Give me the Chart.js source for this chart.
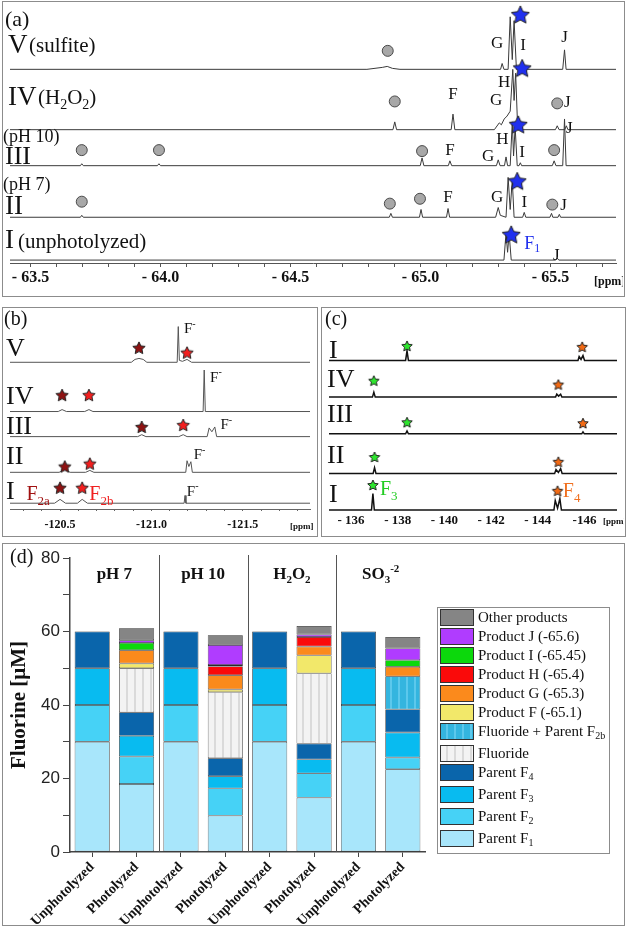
<!DOCTYPE html>
<html>
<head>
<meta charset="utf-8">
<script src="https://cdn.jsdelivr.net/npm/chart.js@4.4.1/dist/chart.umd.min.js"></script>
<style>
  body { margin: 0; background: #fff; }
  #page { position: relative; width: 627px; height: 927px; overflow: hidden; background: #fff; }
  .box { position: absolute; border: 1px solid #8c8c8c; box-sizing: border-box; }
  canvas { position: absolute; }
</style>
</head>
<body>
<div id="page">
  <div class="box" style="left:2px;top:1px;width:623px;height:296px"></div>
  <div class="box" style="left:2px;top:307px;width:316px;height:230px"></div>
  <div class="box" style="left:321px;top:307px;width:305px;height:230px"></div>
  <div class="box" style="left:2px;top:543px;width:623px;height:383px"></div>
  <canvas id="chartA" width="620" height="293" style="left:3px;top:2px;width:620px;height:293px"></canvas>
  <canvas id="chartB" width="314" height="227" style="left:3px;top:308px;width:314px;height:227px"></canvas>
  <canvas id="chartC" width="302" height="227" style="left:322px;top:308px;width:302px;height:227px"></canvas>
  <canvas id="chartD" width="620" height="380" style="left:3px;top:544px;width:620px;height:380px"></canvas>
</div>
<script>
Chart.defaults.font.family = "'Liberation Serif', 'Times New Roman', serif";
Chart.defaults.color = '#111';

// ---------- panel (a): CF3 region, ppm / intensity ----------
var aV_ppm = [-63.421, -64.794, -64.853, -64.872, -64.892, -64.921, -65.308, -65.314, -65.321, -65.337, -65.345, -65.353, -65.360, -65.369, -65.376, -65.380, -65.385, -65.547, -65.554, -65.560, -65.752];
var aV_int = [0, 0, 2, 3, 1, 0, 0, 6, 0, 0, 54, 10, 50, 0, 0, 3, 0, 0, 20, 0, 0];
var aIV_ppm = [-63.421, -64.894, -64.901, -64.908, -65.118, -65.125, -65.132, -65.284, -65.303, -65.311, -65.322, -65.333, -65.345, -65.355, -65.360, -65.366, -65.374, -65.519, -65.526, -65.533, -65.555, -65.561, -65.567, -65.752];
var aIV_int = [0, 0, 8, 0, 0, 16, 0, 0, 7, 5, 11, 14, 19, 62, 30, 58, 0, 0, 4, 0, 0, 4, 0, 0];
var aIII_ppm = [-63.421, -63.692, -63.697, -63.703, -63.988, -63.994, -64.000, -64.999, -65.006, -65.013, -65.107, -65.113, -65.120, -65.292, -65.299, -65.306, -65.323, -65.329, -65.335, -65.345, -65.353, -65.358, -65.364, -65.372, -65.379, -65.384, -65.389, -65.507, -65.514, -65.521, -65.547, -65.554, -65.560, -65.752];
var aIII_int = [0, 0, 2, 0, 0, 2, 0, 0, 8, 0, 0, 5, 0, 0, 6, 0, 0, 9, 0, 0, 45, 10, 40, 0, 0, 3, 0, 0, 5, 0, 0, 48, 0, 0];
var aII_ppm = [-63.421, -63.692, -63.697, -63.703, -64.880, -64.886, -64.892, -64.996, -65.002, -65.008, -65.100, -65.106, -65.112, -65.289, -65.299, -65.307, -65.329, -65.337, -65.345, -65.353, -65.360, -65.393, -65.399, -65.405, -65.498, -65.504, -65.509, -65.529, -65.534, -65.539, -65.752];
var aII_int = [0, 0, 2, 0, 0, 4, 0, 0, 8, 0, 0, 9, 0, 0, 10, 2, 0, 41, 8, 38, 0, 0, 5, 0, 0, 4, 0, 0, 3, 0, 0];
var aI_ppm = [-63.421, -65.321, -65.329, -65.335, -65.341, -65.349, -65.520, -65.526, -65.532, -65.752];
var aI_int = [0, 0, 28, 8, 27, 0, 0, 2, 0, 0];

var aV_stars = [[-65.384, 56]], aV_circles = [[-64.874, 19]];
var aIV_stars = [[-65.391, 63]], aIV_circles = [[-64.901, 29], [-65.526, 27]];
var aIII_stars = [[-65.376, 42]], aIII_circles = [[-63.697, 16], [-63.994, 16], [-65.006, 15], [-65.514, 16]];
var aII_stars = [[-65.372, 37]], aII_circles = [[-63.697, 16], [-64.882, 14], [-64.998, 19], [-65.507, 13]];
var aI_stars = [[-65.349, 26]];

var aV_tags = [[-65.295, 28, 'G'], [-65.395, 26, 'I'], [-65.554, 34, 'J']];
var aIV_tags = [[-65.125, 37, 'F'], [-65.322, 50, 'H'], [-65.291, 31, 'G'], [-65.565, 29, 'J']];
var aIII_tags = [[-65.113, 17, 'F'], [-65.315, 28, 'H'], [-65.260, 11, 'G'], [-65.391, 15, 'I'], [-65.572, 39, 'J']];
var aII_tags = [[-65.106, 21, 'F'], [-65.295, 21, 'G'], [-65.399, 16, 'I'], [-65.550, 13, 'J']];
var aI_tags = [[-65.522, 6, 'J']];
var aI_blue = [[-65.430, 18, 'F_{1}']];

// ---------- panel (b): F2 region ----------
var bV_ppm = [-120.226, -120.89, -120.91, -120.932, -120.955, -120.975, -121.141, -121.147, -121.153, -121.17, -121.195, -121.22, -121.868];
var bV_int = [0, 0, 3, 4, 3, 0, 0, 37, 2, 1, 3, 0, 0];
var bIV_ppm = [-120.226, -120.49, -120.511, -120.535, -120.635, -120.658, -120.68, -121.283, -121.289, -121.295, -121.868];
var bIV_int = [0, 0, 2, 0, 0, 2, 0, 0, 43, 0, 0];
var bIII_ppm = [-120.226, -120.925, -120.947, -120.97, -121.15, -121.174, -121.195, -121.305, -121.316, -121.331, -121.347, -121.357, -121.868];
var bIII_int = [0, 0, 2, 0, 0, 2, 0, 0, 9, 5, 10, 0, 0];
var bII_ppm = [-120.226, -120.495, -120.526, -120.555, -120.64, -120.663, -120.685, -121.188, -121.195, -121.205, -121.216, -121.224, -121.868];
var bII_int = [0, 0, 3, 0, 0, 2, 0, 0, 12, 6, 11, 0, 0];
var bI_ppm = [-120.226, -120.47, -120.5, -120.53, -120.595, -120.621, -120.65, -121.179, -121.184, -121.189, -121.868];
var bI_int = [0, 0, 4, 0, 0, 4, 0, 0, 8, 0, 0];

var bV_f2a = [[-120.932, 15]], bV_f2b = [[-121.195, 10]];
var bIV_f2a = [[-120.511, 17]], bIV_f2b = [[-120.658, 17]];
var bIII_f2a = [[-120.947, 10]], bIII_f2b = [[-121.174, 12]];
var bII_f2a = [[-120.526, 6]], bII_f2b = [[-120.663, 9]];
var bI_f2a = [[-120.5, 16]], bI_f2b = [[-120.621, 16]];

var bV_tags = [[-121.21, 35, 'F^{-}']];
var bIV_tags = [[-121.353, 36, 'F^{-}']];
var bIII_tags = [[-121.41, 13, 'F^{-}']];
var bII_tags = [[-121.263, 19, 'F^{-}']];
var bI_tags = [[-121.226, 13, 'F^{-}']];
var bI_f2aTag = [[-120.38, 10, 'F_{2a}']];
var bI_f2bTag = [[-120.726, 10, 'F_{2b}']];

// ---------- panel (c): F3 / F4 region ----------
var cI1_ppm = [-135.06, -138.34, -138.40, -138.46, -145.72, -145.769, -145.85, -145.934, -146.00, -147.39];
var cI1_int = [0, 0, 10, 0, 0, 4, 1, 5, 0, 0];
var cIV_ppm = [-135.06, -136.92, -136.98, -137.04, -144.76, -144.812, -144.89, -144.977, -145.03, -147.39];
var cIV_int = [0, 0, 5, 0, 0, 3, 1, 3, 0, 0];
var cIII_ppm = [-135.06, -138.34, -138.40, -138.46, -145.88, -145.934, -145.99, -147.39];
var cIII_int = [0, 0, 3, 0, 0, 2, 0, 0];
var cII_ppm = [-135.06, -136.95, -137.01, -137.07, -144.72, -144.779, -144.88, -144.977, -145.04, -147.39];
var cII_int = [0, 0, 6, 0, 0, 4, 1, 5, 0, 0];
var cI2_ppm = [-135.06, -136.88, -136.94, -137.00, -144.69, -144.746, -144.845, -144.944, -145.01, -147.39];
var cI2_int = [0, 0, 17, 0, 0, 10, 2, 12, 0, 0];

var cI1_f3 = [[-138.40, 15]], cI1_f4 = [[-145.901, 14]];
var cIV_f3 = [[-136.98, 17]], cIV_f4 = [[-144.878, 13]];
var cIII_f3 = [[-138.40, 12]], cIII_f4 = [[-145.934, 11]];
var cII_f3 = [[-137.01, 17]], cII_f4 = [[-144.878, 12]];
var cI2_f3 = [[-136.94, 26]], cI2_f4 = [[-144.845, 20]];
var cI2_f3Tag = [[-137.62, 22, 'F_{3}']];
var cI2_f4Tag = [[-145.45, 20, 'F_{4}']];

// ---------- panel (d): fluorine mass balance, µM ----------
var barLabels = ['Unphotolyzed', 'Photolyzed', 'Unphotolyzed', 'Photolyzed', 'Unphotolyzed', 'Photolyzed', 'Unphotolyzed', 'Photolyzed'];
var groupNames = ['pH 7', 'pH 10', 'H_{2}O_{2}', 'SO_{3}^{-2}'];
var parentF1 = [30, 18.5, 30, 9.9, 30, 14.8, 30, 22.5];
var parentF2 = [10, 7.5, 10, 7.4, 10, 6.6, 10, 3.2];
var parentF3 = [10, 5.6, 10, 3.3, 10, 3.8, 10, 6.8];
var parentF4 = [10, 6.4, 10, 4.9, 10, 4.3, 10, 6.3];
var fluoride = [null, 12.0, null, 18.0, null, 19.1, null, null];
var fluorideF2b = [null, null, null, null, null, null, null, 9.0];
var productF = [null, 1.3, null, 0.7, null, 4.9, null, null];
var productG = [null, 3.6, null, 3.9, null, 2.4, null, 2.6];
var productH = [null, null, null, 2.4, null, 2.6, null, null];
var productI = [null, 2.0, null, 0.4, null, null, null, 1.8];
var productJ = [null, 0.7, null, 5.4, null, 0.7, null, 3.2];
var otherProducts = [null, 3.3, null, 2.7, null, 2.3, null, 3.1];

// text with _{sub} and ^{sup}, y is the baseline
function drawRich(ctx, str, x, y, size, o) {
  o = o || {};
  var weight = o.bold ? 'bold ' : '';
  var fam = "'Liberation Serif', 'Times New Roman', serif";
  var parts = [], re = /_\{([^}]*)\}|\^\{([^}]*)\}|([^_^]+)/g, m;
  while ((m = re.exec(str))) {
    if (m[1] !== undefined) parts.push({t: m[1], k: 'sub'});
    else if (m[2] !== undefined) parts.push({t: m[2], k: 'sup'});
    else parts.push({t: m[3], k: 'n'});
  }
  var small = Math.round(size * 0.65), w = 0;
  ctx.save();
  parts.forEach(function (p) {
    ctx.font = weight + (p.k == 'n' ? size : small) + 'px ' + fam;
    p.w = ctx.measureText(p.t).width;
    w += p.w;
  });
  var cx = o.align == 'center' ? x - w / 2 : x;
  ctx.fillStyle = o.color || '#111';
  ctx.textBaseline = 'alphabetic';
  ctx.textAlign = 'left';
  parts.forEach(function (p) {
    ctx.font = weight + (p.k == 'n' ? size : small) + 'px ' + fam;
    var dy = p.k == 'sub' ? size * 0.22 : (p.k == 'sup' ? -size * 0.42 : 0);
    ctx.fillText(p.t, cx, y + dy);
    cx += p.w;
  });
  ctx.restore();
}

function starImg(r, fill) {
  var s = Math.ceil(r * 2 + 3);
  var c = document.createElement('canvas');
  c.width = s; c.height = s;
  var g = c.getContext('2d');
  g.beginPath();
  for (var i = 0; i < 10; i++) {
    var a = -Math.PI / 2 + i * Math.PI / 5;
    var rr = i % 2 ? r * 0.48 : r;
    g.lineTo(s / 2 + rr * Math.cos(a), s / 2 + 0.5 + rr * Math.sin(a));
  }
  g.closePath();
  g.fillStyle = fill; g.fill();
  g.lineWidth = 1; g.strokeStyle = '#222'; g.stroke();
  return c;
}

function pairs(list) { return list.map(function (p) { return {x: p[0], y: p[1]}; }); }
function zip(xs, ys) { return xs.map(function (x, i) { return {x: x, y: ys[i]}; }); }

function notes(tags, fixed, ox, oy) {
  return {
    id: 'notes',
    afterDatasetsDraw: function (chart) {
      var ctx = chart.ctx;
      tags.forEach(function (t) {
        t.list.forEach(function (p) {
          var x = chart.scales.x.getPixelForValue(p[0]);
          var y = chart.scales[t.axis].getPixelForValue(p[1]);
          drawRich(ctx, p[2], x, y + t.size * 0.33, t.size, {align: 'center', color: t.color});
        });
      });
      fixed.forEach(function (f) {
        drawRich(ctx, f[2], f[0] - ox, f[1] - oy, f[3], {color: f[4], bold: f[5]});
      });
    }
  };
}

function spectrumChart(id, o) {
  var scales = {
    x: {
      type: 'linear', reverse: true, min: o.xmin, max: o.xmax,
      ticks: Object.assign({autoSkip: false, maxRotation: 0, includeBounds: false, color: '#111'}, o.ticks),
      grid: o.grid, border: o.border,
      afterFit: function (s) { s.height = o.axisHeight; }
    }
  };
  var datasets = [];
  o.rows.forEach(function (r) {
    scales[r.id] = {type: 'linear', position: 'right', stack: 'rows', stackWeight: r.hi - r.lo, min: r.lo, max: r.hi,
      ticks: {display: false}, grid: {display: false, drawTicks: false}, border: {display: false}};
  });
  o.marks.forEach(function (m) {
    datasets.push({data: pairs(m.list), yAxisID: m.axis, pointStyle: m.style, pointRadius: m.r || 6,
      backgroundColor: m.fill || '#000', borderColor: '#4a4a4a', borderWidth: 1, showLine: false, clip: false});
  });
  o.rows.forEach(function (r) {
    datasets.push({data: zip(r.ppm, r.inten), yAxisID: r.id, showLine: true, pointRadius: 0,
      borderColor: o.lineColor, borderWidth: o.lineWidth, tension: 0, clip: false});
  });
  return new Chart(document.getElementById(id), {
    type: 'scatter',
    data: {datasets: datasets},
    options: {
      responsive: false, animation: false, devicePixelRatio: 1, events: [],
      plugins: {legend: {display: false}, tooltip: {enabled: false}},
      scales: scales
    },
    plugins: [notes(o.tags, o.fixed, o.ox, o.oy)]
  });
}

var starBlue = starImg(9.5, '#2030ee');
var starDark = starImg(6.5, '#8e1212');
var starRed = starImg(6.5, '#f21e1e');
var starGreen = starImg(5.5, '#2ee52e');
var starOrange = starImg(5.5, '#f26a14');
var grayDot = {style: 'circle', r: 5.5, fill: '#a8a8a8'};

// (a)
spectrumChart('chartA', {
  xmin: -65.752, xmax: -63.421, axisHeight: 32, ox: 3, oy: 2,
  lineColor: '#3a3a3a', lineWidth: 1,
  ticks: {stepSize: 0.1, padding: 1, font: {weight: 'bold', size: 16},
    callback: function (v) { return Math.round(v * 10) % 5 === 0 ? '- ' + Math.abs(v).toFixed(1) : ''; }},
  grid: {drawOnChartArea: false, tickLength: 4, color: '#555'},
  border: {color: '#555'},
  rows: [
    {id: 'yV', ppm: aV_ppm, inten: aV_int, lo: -3, hi: 62},
    {id: 'yIV', ppm: aIV_ppm, inten: aIV_int, lo: -3, hi: 59},
    {id: 'yIII', ppm: aIII_ppm, inten: aIII_int, lo: -3, hi: 34},
    {id: 'yII', ppm: aII_ppm, inten: aII_int, lo: -3, hi: 50},
    {id: 'yI', ppm: aI_ppm, inten: aI_int, lo: -3, hi: 41}
  ],
  marks: [
    {axis: 'yV', list: aV_stars, style: starBlue}, Object.assign({axis: 'yV', list: aV_circles}, grayDot),
    {axis: 'yIV', list: aIV_stars, style: starBlue}, Object.assign({axis: 'yIV', list: aIV_circles}, grayDot),
    {axis: 'yIII', list: aIII_stars, style: starBlue}, Object.assign({axis: 'yIII', list: aIII_circles}, grayDot),
    {axis: 'yII', list: aII_stars, style: starBlue}, Object.assign({axis: 'yII', list: aII_circles}, grayDot),
    {axis: 'yI', list: aI_stars, style: starBlue}
  ],
  tags: [
    {axis: 'yV', list: aV_tags, size: 17}, {axis: 'yIV', list: aIV_tags, size: 17},
    {axis: 'yIII', list: aIII_tags, size: 17}, {axis: 'yII', list: aII_tags, size: 17},
    {axis: 'yI', list: aI_tags, size: 17}, {axis: 'yI', list: aI_blue, size: 18, color: '#2030ee'}
  ],
  fixed: [
    [5, 26, '(a)', 22], [8, 53, 'V', 27], [29, 52, '(sulfite)', 21], [8, 105, 'IV', 27],
    [38, 104, '(H_{2}O_{2})', 21], [3, 142, '(pH 10)', 18], [5, 164, 'III', 26], [3, 190, '(pH 7)', 18],
    [5, 214, 'II', 27], [5, 248, 'I', 27], [18, 248, '(unphotolyzed)', 21], [594, 285, '[ppm]', 12, '#111', true]
  ]
});

// (b)
spectrumChart('chartB', {
  xmin: -121.868, xmax: -120.226, axisHeight: 26, ox: 3, oy: 308,
  lineColor: '#555', lineWidth: 1,
  ticks: {stepSize: 0.1, padding: 7, font: {weight: 'bold', size: 12},
    callback: function (v) { return Math.round(v * 10) % 5 === 0 ? '-' + Math.abs(v).toFixed(1) : ''; }},
  grid: {drawOnChartArea: false, tickLength: 2, color: '#666'},
  border: {color: '#666'},
  rows: [
    {id: 'yV', ppm: bV_ppm, inten: bV_int, lo: -3, hi: 49},
    {id: 'yIV', ppm: bIV_ppm, inten: bIV_int, lo: -3, hi: 48},
    {id: 'yIII', ppm: bIII_ppm, inten: bIII_int, lo: -3, hi: 23},
    {id: 'yII', ppm: bII_ppm, inten: bII_int, lo: -3, hi: 34},
    {id: 'yI', ppm: bI_ppm, inten: bI_int, lo: -6, hi: 29}
  ],
  marks: [
    {axis: 'yV', list: bV_f2a, style: starDark}, {axis: 'yV', list: bV_f2b, style: starRed},
    {axis: 'yIV', list: bIV_f2a, style: starDark}, {axis: 'yIV', list: bIV_f2b, style: starRed},
    {axis: 'yIII', list: bIII_f2a, style: starDark}, {axis: 'yIII', list: bIII_f2b, style: starRed},
    {axis: 'yII', list: bII_f2a, style: starDark}, {axis: 'yII', list: bII_f2b, style: starRed},
    {axis: 'yI', list: bI_f2a, style: starDark}, {axis: 'yI', list: bI_f2b, style: starRed}
  ],
  tags: [
    {axis: 'yV', list: bV_tags, size: 15}, {axis: 'yIV', list: bIV_tags, size: 15},
    {axis: 'yIII', list: bIII_tags, size: 15}, {axis: 'yII', list: bII_tags, size: 15},
    {axis: 'yI', list: bI_tags, size: 15},
    {axis: 'yI', list: bI_f2aTag, size: 20, color: '#a01010'},
    {axis: 'yI', list: bI_f2bTag, size: 20, color: '#f02020'}
  ],
  fixed: [
    [4, 325, '(b)', 20], [6, 356, 'V', 26], [6, 404, 'IV', 26], [6, 434, 'III', 26],
    [6, 464, 'II', 26], [6, 499, 'I', 26], [290, 529, '[ppm]', 9, '#111', true]
  ]
});

// (c)
spectrumChart('chartC', {
  xmin: -147.39, xmax: -135.06, axisHeight: 22, ox: 322, oy: 308,
  lineColor: '#111', lineWidth: 1.5,
  ticks: {stepSize: 2, padding: 0, font: {weight: 'bold', size: 13},
    callback: function (v) { return Math.round(v) === -146 ? '-146' : '- ' + Math.abs(Math.round(v)); }},
  grid: {display: false, drawTicks: false},
  border: {display: false},
  rows: [
    {id: 'yI1', ppm: cI1_ppm, inten: cI1_int, lo: -3, hi: 47},
    {id: 'yIV', ppm: cIV_ppm, inten: cIV_int, lo: -3, hi: 35},
    {id: 'yIII', ppm: cIII_ppm, inten: cIII_int, lo: -3, hi: 35},
    {id: 'yII', ppm: cII_ppm, inten: cII_int, lo: -3, hi: 38},
    {id: 'yI2', ppm: cI2_ppm, inten: cI2_int, lo: -3, hi: 35}
  ],
  marks: [
    {axis: 'yI1', list: cI1_f3, style: starGreen}, {axis: 'yI1', list: cI1_f4, style: starOrange},
    {axis: 'yIV', list: cIV_f3, style: starGreen}, {axis: 'yIV', list: cIV_f4, style: starOrange},
    {axis: 'yIII', list: cIII_f3, style: starGreen}, {axis: 'yIII', list: cIII_f4, style: starOrange},
    {axis: 'yII', list: cII_f3, style: starGreen}, {axis: 'yII', list: cII_f4, style: starOrange},
    {axis: 'yI2', list: cI2_f3, style: starGreen}, {axis: 'yI2', list: cI2_f4, style: starOrange}
  ],
  tags: [
    {axis: 'yI2', list: cI2_f3Tag, size: 20, color: '#22cc22'},
    {axis: 'yI2', list: cI2_f4Tag, size: 20, color: '#f07020'}
  ],
  fixed: [
    [325, 325, '(c)', 20], [329, 358, 'I', 26], [327, 387, 'IV', 26], [327, 422, 'III', 26],
    [327, 463, 'II', 26], [329, 502, 'I', 26], [603, 524, '[ppm]', 9, '#111', true]
  ]
});

// (d)
var ctxD = document.getElementById('chartD').getContext('2d');
function stripes(base, stripe) {
  var c = document.createElement('canvas');
  c.width = 8; c.height = 8;
  var g = c.getContext('2d');
  g.fillStyle = base; g.fillRect(0, 0, 8, 8);
  g.fillStyle = stripe; g.fillRect(3, 0, 2, 8);
  return ctxD.createPattern(c, 'repeat');
}

var decorD = {
  id: 'decorD',
  afterDraw: function (chart) {
    var ctx = chart.ctx, xs = chart.scales.x, area = chart.chartArea;
    ctx.save();
    ctx.strokeStyle = '#555';
    ctx.lineWidth = 1;
    [1, 3, 5].forEach(function (i) {
      var x = Math.round((xs.getPixelForValue(i) + xs.getPixelForValue(i + 1)) / 2) + 0.5;
      ctx.beginPath(); ctx.moveTo(x, area.top - 3); ctx.lineTo(x, area.bottom); ctx.stroke();
    });
    groupNames.forEach(function (g, k) {
      var x = (xs.getPixelForValue(2 * k) + xs.getPixelForValue(2 * k + 1)) / 2;
      drawRich(ctx, g, x, 35, 17, {bold: true, align: 'center'});
    });
    drawRich(ctx, '(d)', 7, 19, 20);
    ctx.translate(15, (area.top + area.bottom) / 2);
    ctx.rotate(-Math.PI / 2);
    drawRich(ctx, 'Fluorine [μM]', 0, 7, 21, {bold: true, align: 'center'});
    ctx.restore();

    // legend, drawn from the datasets in reverse order
    var ds = chart.data.datasets;
    ctx.save();
    ctx.strokeStyle = '#8c8c8c';
    ctx.lineWidth = 1;
    ctx.strokeRect(434.5, 63.5, 172, 246);
    var y = 73, prevSub = false;
    for (var i = ds.length - 1; i >= 0; i--) {
      if (i < ds.length - 1) y += prevSub ? 22 : 19;
      ctx.fillStyle = ds[i].backgroundColor;
      ctx.fillRect(437, y - 8, 33, 16);
      ctx.strokeStyle = '#333';
      ctx.strokeRect(437.5, y - 7.5, 33, 16);
      drawRich(ctx, ds[i].label, 475, y + 5, 15);
      prevSub = ds[i].label.indexOf('_{') >= 0;
    }
    ctx.restore();
  }
};

function barSet(label, values, color) {
  return {label: label, data: values, backgroundColor: color};
}

new Chart(ctxD, {
  type: 'bar',
  data: {
    labels: barLabels,
    datasets: [
      barSet('Parent F_{1}', parentF1, '#a8e6fb'),
      barSet('Parent F_{2}', parentF2, '#46d2f6'),
      barSet('Parent F_{3}', parentF3, '#08bbf0'),
      barSet('Parent F_{4}', parentF4, '#0a65ab'),
      barSet('Fluoride', fluoride, stripes('#f3f3f3', '#dadada')),
      barSet('Fluoride + Parent F_{2b}', fluorideF2b, stripes('#34b5df', '#5cc8ec')),
      barSet('Product F (-65.1)', productF, '#f2e86a'),
      barSet('Product G (-65.3)', productG, '#fb8a1c'),
      barSet('Product H (-65.4)', productH, '#fa0a0a'),
      barSet('Product I (-65.45)', productI, '#0cd80c'),
      barSet('Product J (-65.6)', productJ, '#b03cff'),
      barSet('Other products', otherProducts, '#858585')
    ]
  },
  options: {
    responsive: false, animation: false, devicePixelRatio: 1, events: [],
    layout: {padding: {top: 14, right: 198, left: 0, bottom: 0}},
    plugins: {legend: {display: false}, tooltip: {enabled: false}},
    datasets: {bar: {categoryPercentage: 1, barPercentage: 0.79, borderColor: '#2a2a2a', borderWidth: 0.7, borderSkipped: false}},
    scales: {
      x: {
        stacked: true,
        grid: {drawOnChartArea: false, offset: false, tickLength: 5, color: '#444'},
        border: {color: '#444', width: 1.5},
        ticks: {minRotation: 45, maxRotation: 45, padding: 2, color: '#111', font: {weight: 'bold', size: 14}},
        afterFit: function (s) { s.height = 72; }
      },
      y: {
        stacked: true, min: 0, max: 80,
        ticks: {stepSize: 10, padding: 3, color: '#222', font: {family: "'Liberation Sans', Arial, sans-serif", size: 17},
          callback: function (v) { return v % 20 === 0 ? v : ''; }},
        grid: {drawOnChartArea: false, tickLength: 7, color: '#444'},
        border: {color: '#444', width: 1.5},
        afterFit: function (s) { s.width = 67; }
      }
    }
  },
  plugins: [decorD]
});
</script>
</body>
</html>
